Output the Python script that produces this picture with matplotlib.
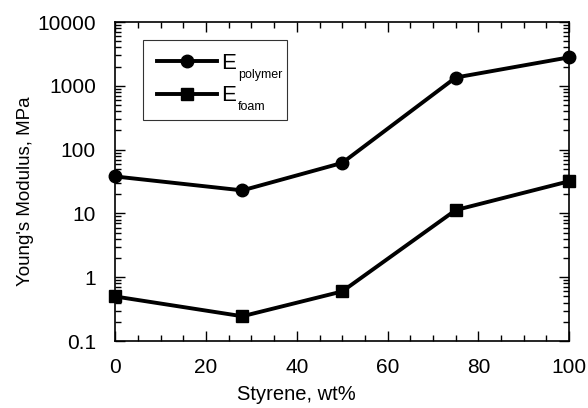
import numpy as np
import matplotlib
matplotlib.use('Agg')
import matplotlib.pyplot as plt
from matplotlib.ticker import MultipleLocator, LogLocator, FixedLocator, FixedFormatter, NullFormatter

plt.rcParams['font.family'] = ['Liberation Sans', 'DejaVu Sans']

# data
styrene = [0, 28, 50, 75, 100]
e_polymer = [38, 23, 62, 1350, 2800]
e_foam = [0.50, 0.245, 0.60, 11.3, 32]
y_ticks = [0.1, 1, 10, 100, 1000, 10000]
y_labels = ['0.1', '1', '10', '100', '1000', '10000']
subscripts = ['polymer', 'foam']

fig = plt.figure(figsize=(5.88, 4.08), dpi=100)
ax = fig.add_axes([0.196, 0.164, 0.772, 0.782])

# trailing no-break spaces leave room in the legend box for the subscripts
ax.plot(styrene, e_polymer, color='black', lw=2.8, marker='o', ms=9,
        label='E' + '\u00a0' * 6, clip_on=False, zorder=3)
ax.plot(styrene, e_foam, color='black', lw=2.8, marker='s', ms=9,
        label='E' + '\u00a0' * 6, clip_on=False, zorder=3)

ax.set_yscale('log')
ax.set_xlim(0, 100)
ax.set_ylim(0.1, 10000)

ax.xaxis.set_major_locator(MultipleLocator(20))
ax.xaxis.set_minor_locator(MultipleLocator(5))
ax.yaxis.set_major_locator(FixedLocator(y_ticks))
ax.yaxis.set_major_formatter(FixedFormatter(y_labels))
ax.yaxis.set_minor_locator(LogLocator(base=10, subs=np.arange(2, 10), numticks=20))
ax.yaxis.set_minor_formatter(NullFormatter())

ax.tick_params(which='both', direction='in', top=True, right=True, labelsize=15, width=1)
ax.tick_params(which='major', length=7)
ax.tick_params(which='minor', length=4)
ax.tick_params(axis='x', which='major', pad=12)
ax.tick_params(axis='y', which='major', pad=14)

for s in ax.spines.values():
    s.set_linewidth(1.2)

ax.set_xlabel('Styrene, wt%', fontsize=14.5)
ax.xaxis.set_label_coords(0.40, -0.138)
ax.set_ylabel("Young's Modulus, MPa", fontsize=13.5)
ax.yaxis.set_label_coords(-0.18, 0.47)

leg = ax.legend(loc='upper left', bbox_to_anchor=(0.062, 0.944), borderaxespad=0,
                fontsize=16, fancybox=False, edgecolor='black', handlelength=2.7,
                borderpad=0.6, labelspacing=0.5, handletextpad=0.22)
leg.get_frame().set_linewidth(0.8)
leg.set_zorder(5)

# subscripts below the E, like the original
for txt, sub in zip(leg.get_texts(), subscripts):
    ax.annotate(sub, xy=(0, 0), xycoords=txt, xytext=(12, -2.5),
                textcoords='offset points', fontsize=9, va='baseline',
                ha='left', zorder=6)

fig.savefig('out.png', dpi=100)
